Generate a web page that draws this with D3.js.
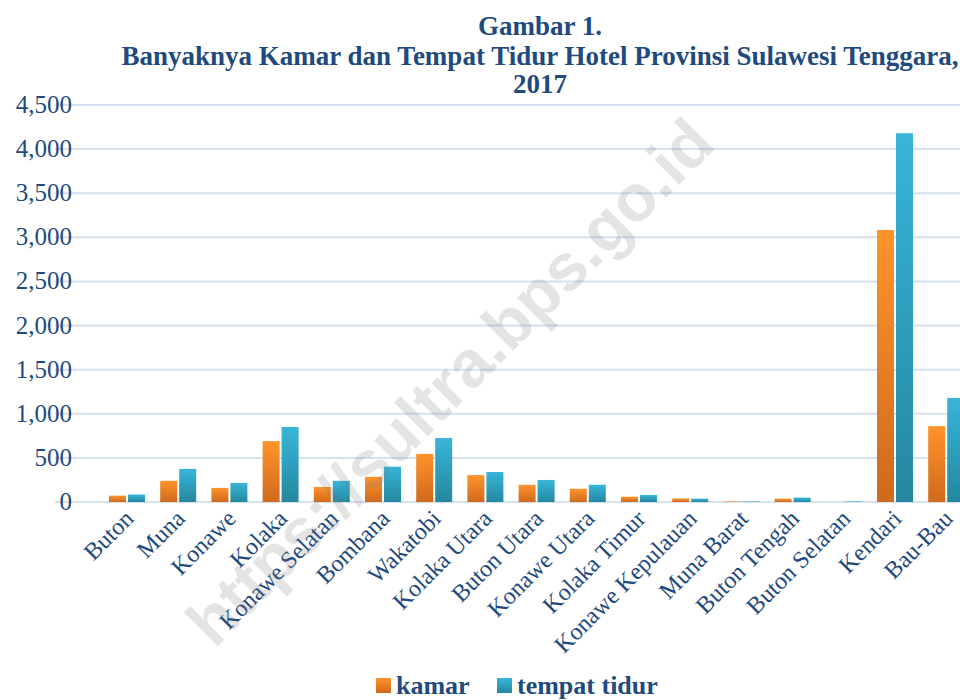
<!DOCTYPE html>
<html><head><meta charset="utf-8">
<script src="https://cdn.jsdelivr.net/npm/d3@7/dist/d3.min.js"></script>
<style>body{margin:0;background:#fff}svg{display:block}</style>
</head><body>
<svg id="c" width="960" height="700"></svg>
<script>
const categories = ["Buton","Muna","Konawe","Kolaka","Konawe Selatan","Bombana","Wakatobi","Kolaka Utara","Buton Utara","Konawe Utara","Kolaka Timur","Konawe Kepulauan","Muna Barat","Buton Tengah","Buton Selatan","Kendari","Bau-Bau"];
const kamar = [72,240,160,690,170,285,545,305,195,150,60,40,6,38,0,3083,860];
const tempatTidur = [85,375,215,850,240,400,725,340,250,195,80,38,6,50,6,4180,1180];
const yTicks = [0,500,1000,1500,2000,2500,3000,3500,4000,4500];
const seriesNames = ["kamar","tempat tidur"];
const titleLines = ["Gambar 1.","Banyaknya Kamar dan Tempat Tidur Hotel Provinsi Sulawesi Tenggara,","2017"];

const svg = d3.select("#c");
const textColor = "#1F4A7E";
const serif = "Liberation Serif";

const defs = svg.append("defs");
function grad(id, top, bottom){
  const g = defs.append("linearGradient").attr("id",id).attr("x1",0).attr("y1",0).attr("x2",0).attr("y2",1);
  g.append("stop").attr("offset","0%").attr("stop-color",top);
  g.append("stop").attr("offset","100%").attr("stop-color",bottom);
}
grad("gO","#FF932B","#CF6A1E");
grad("gT","#38B5D9","#25879F");

const y = d3.scaleLinear().domain([0,4500]).range([502,105]);
const x = d3.scaleBand().domain(categories).range([101.4, 101.4+17*51.2]).padding(0);
const barW = 17, gap = 2;

// gridlines
svg.append("g").selectAll("line").data(yTicks).join("line")
  .attr("x1",55).attr("x2",960)
  .attr("y1",d=>y(d)).attr("y2",d=>y(d))
  .attr("stroke","#D6E0EF").attr("stroke-width",2);

// y labels
svg.append("g").selectAll("text").data(yTicks).join("text")
  .attr("x",72).attr("y",d=>y(d)+8)
  .attr("text-anchor","end")
  .attr("font-family",serif).attr("font-size",25).attr("fill",textColor)
  .text(d=>d3.format(",")(d));

// bars
const gB = svg.append("g");
gB.selectAll("rect.k").data(categories).join("rect").attr("class","k")
  .attr("x",d=>x(d)+x.bandwidth()/2-barW-gap/2)
  .attr("y",(d,i)=>y(kamar[i]))
  .attr("width",barW)
  .attr("height",(d,i)=>y(0)-y(kamar[i]))
  .attr("fill","url(#gO)");
gB.selectAll("rect.t").data(categories).join("rect").attr("class","t")
  .attr("x",d=>x(d)+x.bandwidth()/2+gap/2)
  .attr("y",(d,i)=>y(tempatTidur[i]))
  .attr("width",barW)
  .attr("height",(d,i)=>y(0)-y(tempatTidur[i]))
  .attr("fill","url(#gT)");

// x labels
svg.append("g").selectAll("text").data(categories).join("text")
  .attr("transform",d=>`translate(${x(d)+x.bandwidth()/2+8},${520}) rotate(-45)`)
  .attr("text-anchor","end")
  .attr("font-family",serif).attr("font-size",24).attr("fill",textColor)
  .text(d=>d);

// title
svg.append("g").selectAll("text").data(titleLines).join("text")
  .attr("x",540).attr("y",(d,i)=>[35,65,93][i])
  .attr("text-anchor","middle")
  .attr("font-family",serif).attr("font-weight","bold").attr("font-size",27)
  .attr("fill",textColor)
  .text(d=>d);

// legend
const leg = svg.append("g");
const legX = [376,497];
seriesNames.forEach((n,i)=>{
  leg.append("rect").attr("x",legX[i]).attr("y",678).attr("width",15).attr("height",15)
    .attr("fill",i===0?"url(#gO)":"url(#gT)");
  leg.append("text").attr("x",legX[i]+20).attr("y",694)
    .attr("font-family",serif).attr("font-weight","bold").attr("font-size",26)
    .attr("fill",textColor).text(n);
});

// watermark
svg.append("text")
  .attr("transform","translate(466,398) rotate(-45)")
  .attr("text-anchor","middle")
  .attr("font-family","Liberation Sans").attr("font-weight","bold")
  .attr("font-size",66).attr("fill","rgba(120,120,120,0.2)")
  .text("https://sultra.bps.go.id");
</script>
</body></html>
